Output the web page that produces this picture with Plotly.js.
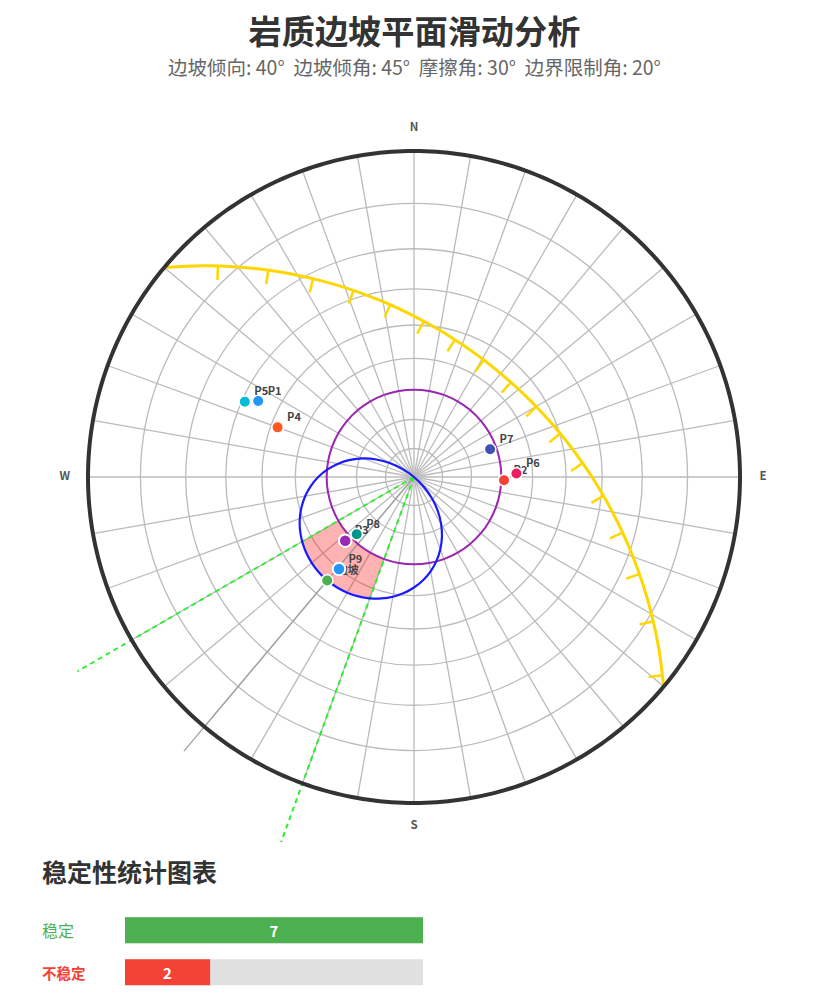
<!DOCTYPE html>
<html><head><meta charset="utf-8">
<script src="https://cdn.plot.ly/plotly-3.0.1.min.js"></script>
<style>html,body{margin:0;padding:0;background:#fff}#chart{width:829px;height:996px}</style>
</head><body><div id="chart"></div>
<script>
// ---- data ----
const gridPlunge = [10,20,30,40,50,60,70,80];
const gridAzimuth = [0,10,20,30,40,50,60,70,80,90,100,110,120,130,140,150,160,170,180,190,200,210,220,230,240,250,260,270,280,290,300,310,320,330,340,350];
const compassAz = [0,90,180,270];
const compassText = ['N','E','S','W'];

const frictionPlunge = 60;
const frictionAz = [0,10,20,30,40,50,60,70,80,90,100,110,120,130,140,150,160,170,180,190,200,210,220,230,240,250,260,270,280,290,300,310,320,330,340,350,360];

// slope great circle, azimuth / projected radius
const slopeAz = [310,315,320,325,330,335,340,345,350,355,0,5,10,15,20,25,30,35,40,45,50,55,60,65,70,75,80,85,90,95,100,105,110,115,120,125,130];
const slopeR = [1,.91667,.84125,.77414,.71486,.66301,.61803,.57924,.54597,.51763,.49365,.47351,.45685,.44327,.43254,.42439,.41871,.41534,.41421,.41534,.41871,.42439,.43254,.44327,.45685,.47351,.49365,.51763,.54597,.57924,.61803,.66301,.71486,.77414,.84125,.91667,1];

// hachures on the slope circle
const hachureAz = [317.11,324.81,333.02,342.03,352.15,3.64,16.61,30.85,45.65,60.09,73.4,85.25,95.67,104.92,113.29,121.09,128.59];
const hachureR = [.8838,.7760,.6824,.6018,.5334,.4787,.4396,.4180,.4156,.4327,.4679,.5191,.5841,.6622,.7529,.8571,.9755];

// daylight envelope
const envelopeAz = [130,135,140,145,150,155,160,165,170,175,180,185,190,195,200,205,210,215,220,225,230,235,240,245,250,255,260,265,270,275,280,285,290,295,300,305,310];
const envelopeR = [0,.04348,.08622,.12731,.16628,.20264,.23607,.26643,.29369,.31784,.33900,.35730,.37283,.38574,.39612,.40411,.40973,.41309,.41421,.41309,.40973,.40411,.39612,.38574,.37283,.35730,.33900,.31784,.29369,.26643,.23607,.20264,.16628,.12731,.08622,.04348,0];

// unstable wedge
const wedgeAz = [200,205,210,215,220,225,230,235,240,240,235,230,225,220,215,210,205,200];
const wedgeR = [.26795,.26795,.26795,.26795,.26795,.26795,.26795,.26795,.26795,.39612,.40411,.40973,.41309,.41421,.41309,.40973,.40411,.39612];

const limitAz = [240,200];
const limitLen = 1.192;
const dipLineAz = 220;
const dipLineLen = 1.098;

// poles
const poleNames = ['边坡','P1','P5','P4','P7','P2','P6','P3','P8','P9'];
const poleTrend = [220,296,294,290,70,92,88,227.2,225,219.2];
const polePlunge = [45,34,30.8,42,62.1,59.1,55.1,57.9,62.1,50];
const poleColors = ['#4CAF50','#2196F3','#00BCD4','#FF5722','#3F51B5','#F44336','#E91E63','#9C27B0','#009688','#2196F3'];
const unstablePoles = ['P3','P9'];

// stability bars
const statCats = ['稳定','不稳定'];
const statVals = [7,2];
const statColors = ['#4CAF50','#F44336'];
const statMax = 7;

// ---- helpers ----
const W = 829, H = 996;
const RPX = 326, RMAX = 1.2;           // net radius in pixels, radial range
const cx = 414, cy = 477;
const proj = p => Math.tan((90 - p) / 2 * Math.PI / 180);
const rad = d => d * Math.PI / 180;
const toPolar = (x, y) => [(Math.atan2(x, y) * 180 / Math.PI + 360) % 360, Math.hypot(x, y)];
const tickLen = 0.043;
const slopeCentre = [Math.sin(rad(220)), Math.cos(rad(220))];
function hachureEnd(az, r) {
  const x = r * Math.sin(rad(az)), y = r * Math.cos(rad(az));
  const dx = slopeCentre[0] - x, dy = slopeCentre[1] - y, d = Math.hypot(dx, dy);
  return toPolar(x + dx / d * tickLen, y + dy / d * tickLen);
}
const hT = [], hR = [];
hachureAz.forEach((a, i) => {
  const e = hachureEnd(a, hachureR[i]);
  hT.push(a, e[0], null); hR.push(hachureR[i], e[1], null);
});
const spokeT = [], spokeR = [];
gridAzimuth.forEach(a => { spokeT.push(a, a, null); spokeR.push(0, 1, null); });
const ringT = [], ringR = [];
for (let a = 0; a <= 360; a += 1) { ringT.push(a); ringR.push(1); }

const polarLine = (theta, r, color, width, dash, shape) => ({
  type: 'scatterpolar', mode: 'lines', theta, r, hoverinfo: 'skip', showlegend: false,
  line: {color, width, dash: dash || 'solid', shape: shape || 'linear', smoothing: 1}
});
const GRID = '#bbbbbb', GW = 1.3;
const cjk = '"Noto Sans CJK SC","Noto Sans",sans-serif';

const traces = [];
traces.push(polarLine(spokeT, spokeR, GRID, GW));
traces.push({type:'scatterpolar', mode:'lines', theta:wedgeAz, r:wedgeR, fill:'toself', fillcolor:'rgba(255,0,0,0.3)', line:{width:0,color:'rgba(0,0,0,0)'}, hoverinfo:'skip', showlegend:false});
traces.push(polarLine([dipLineAz,dipLineAz],[0,dipLineLen],'#a0a0a0',1.3));
limitAz.forEach(a => traces.push(polarLine([a,a],[0,limitLen],'#28f028',2,'5px,4px')));
traces.push(polarLine(frictionAz, frictionAz.map(() => proj(frictionPlunge)), '#9C27B0', 2, null, 'spline'));
traces.push(polarLine(envelopeAz, envelopeR, '#1a1aff', 2.2, null, 'spline'));
traces.push(polarLine(slopeAz, slopeR, '#FFD700', 3, null, 'spline'));
traces.push(polarLine(hT, hR, '#FFD700', 2.5));
traces.push(polarLine(ringT, ringR, '#333333', 4));
traces.push({type:'scatterpolar', mode:'text', theta:compassAz, r:compassAz.map(() => 1.071), text:compassText, textposition:'middle center',
  textfont:{family:cjk,size:11.5,color:'#555',weight:700}, hoverinfo:'skip', showlegend:false});

poleNames.forEach((n, i) => {
  const r = proj(polePlunge[i]);
  const lp = toPolar(r * Math.sin(rad(poleTrend[i])) + 9.5 / RPX, r * Math.cos(rad(poleTrend[i])) + 9 / RPX);
  traces.push({type:'scatterpolar', mode:'text', theta:[lp[0]], r:[lp[1]], text:[n], textposition:'middle right',
    textfont:{family:cjk, size:11, color:'#444', weight:700}, hoverinfo:'skip', showlegend:false});
  const big = unstablePoles.includes(n);
  traces.push({type:'scatterpolar', mode:'markers', theta:[poleTrend[i]], r:[r],
    marker:{size: big ? 12.5 : 11.5, color:poleColors[i], line:{color:'#fff', width: big ? 2 : 1.5}},
    hoverinfo:'skip', showlegend:false});
});

traces.push({type:'bar', orientation:'h', y:statCats, x:statCats.map(() => statMax), xaxis:'x', yaxis:'y', width:0.62,
  marker:{color:'#E0E0E0'}, hoverinfo:'skip', showlegend:false});
traces.push({type:'bar', orientation:'h', y:statCats, x:statVals, xaxis:'x', yaxis:'y', width:0.62,
  marker:{color:statColors}, text:statVals.map(String), textposition:'inside', insidetextanchor:'middle', textangle:0, constraintext:'none',
  textfont:{family:cjk, size:15, color:'#fff', weight:700}, hoverinfo:'skip', showlegend:false});

const RP = RPX * RMAX;
const layout = {
  width:W, height:H, margin:{l:0,r:0,t:0,b:0}, paper_bgcolor:'#fff', plot_bgcolor:'#fff', barmode:'overlay',
  font:{family:cjk},
  title:{text:'<b>岩质边坡平面滑动分析</b>', x:0.5, xanchor:'center', y:1-32/H, yanchor:'middle', font:{family:cjk, size:33.2, color:'#333'}},
  polar:{
    domain:{x:[(cx-RP)/W,(cx+RP)/W], y:[1-(cy+RP)/H,1-(cy-RP)/H]},
    bgcolor:'rgba(0,0,0,0)',
    angularaxis:{rotation:90, direction:'clockwise', thetaunit:'degrees', showticklabels:false, ticks:'', showgrid:false, showline:false},
    radialaxis:{range:[0,RMAX], tickmode:'array', tickvals:gridPlunge.map(proj), showticklabels:false, ticks:'', showline:false,
      showgrid:true, gridcolor:GRID, gridwidth:GW}
  },
  xaxis:{domain:[125/W,423/W], range:[0,statMax], visible:false, fixedrange:true},
  yaxis:{domain:[1-993.3/H,1-909.3/H], type:'category', categoryorder:'array', categoryarray:statCats, autorange:'reversed', visible:false, fixedrange:true},
  annotations:[
    {xref:'paper',yref:'paper',x:0.5,y:1-66/H,xanchor:'center',yanchor:'middle',showarrow:false,
     text:'边坡倾向: 40°\u00a0\u00a0边坡倾角: 45°\u00a0\u00a0摩擦角: 30°\u00a0\u00a0边界限制角: 20°',font:{family:cjk,size:19.5,color:'#666'}},
    {xref:'paper',yref:'paper',x:40/W,y:1-871/H,xanchor:'left',yanchor:'middle',showarrow:false,
     text:'<b>稳定性统计图表</b>',font:{family:cjk,size:25,color:'#333'}},
    {xref:'paper',yref:'y',x:40/W,y:statCats[0],xanchor:'left',yanchor:'middle',showarrow:false,
     text:statCats[0],font:{family:cjk,size:16,color:statColors[0]}},
    {xref:'paper',yref:'y',x:40/W,y:statCats[1],xanchor:'left',yanchor:'middle',showarrow:false,
     text:'<b>'+statCats[1]+'</b>',font:{family:cjk,size:14.5,color:statColors[1]}}
  ]
};
Plotly.newPlot('chart', traces, layout, {staticPlot:true, displayModeBar:false});
</script>
</body></html>
